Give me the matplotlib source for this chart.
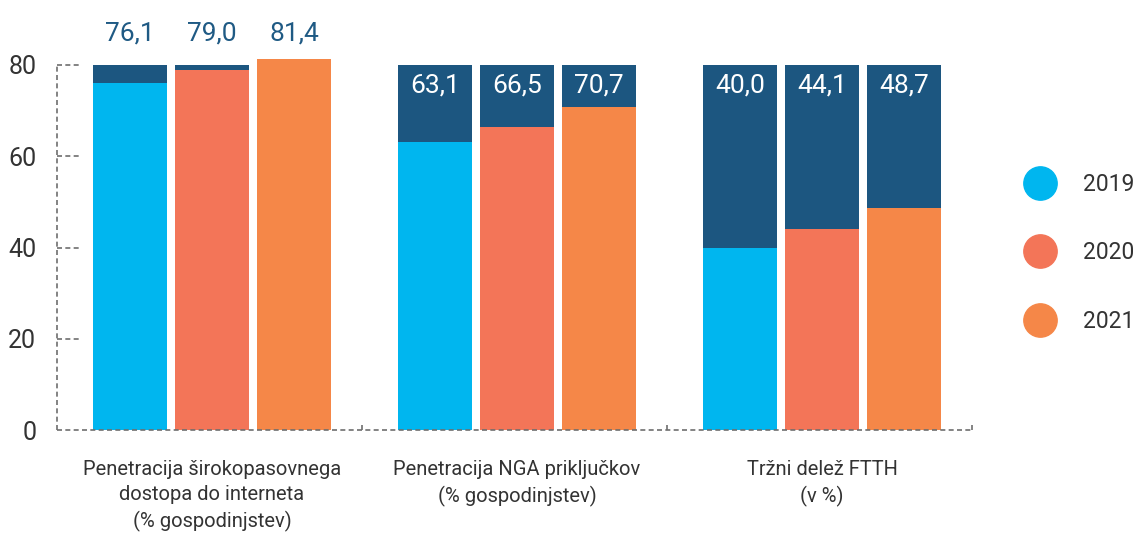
import matplotlib
matplotlib.use("Agg")
import matplotlib.pyplot as plt
from matplotlib.lines import Line2D
import numpy as np

categories = ["Penetracija širokopasovnega\ndostopa do interneta\n(% gospodinjstev)",
              "Penetracija NGA priključkov\n(% gospodinjstev)",
              "Tržni delež FTTH\n(v %)"]
years = ["2019", "2020", "2021"]
values_2019 = [76.1, 63.1, 40.0]
values_2020 = [79.0, 66.5, 44.1]
values_2021 = [81.4, 70.7, 48.7]
background_level = 80
yticks = [0, 20, 40, 60, 80]

series = [values_2019, values_2020, values_2021]
colors = ["#00B6EF", "#F37558", "#F58748"]
navy = "#1C5680"
label_color = "#1F5A84"
text_color = "#333333"
axis_color = "#6E6E6E"

plt.rcParams['font.family'] = ['Roboto', 'DejaVu Sans']

fig = plt.figure(figsize=(11.44, 5.36), dpi=100)
ax = fig.add_axes([57/1144, 106/536, (972-57)/1144, (430-65)/536])

ngroups = len(categories)
centers = np.arange(ngroups) + 0.5 + 2.5/305
bw = 74/305
step = 82/305
offsets = [-step, 0, step]

for s_idx, (vals, col, off) in enumerate(zip(series, colors, offsets)):
    x = centers + off
    ax.bar(x, [background_level]*ngroups, width=bw, color=navy, zorder=2, clip_on=False, linewidth=0)
    ax.bar(x, vals, width=bw, color=col, zorder=3, clip_on=False, linewidth=0)
    for gi, v in enumerate(vals):
        txt = f"{v:.1f}".replace(".", ",")
        if gi == 0:
            ax.text(x[gi], 80 + 32/4.5625, txt, ha="center", va="center",
                    fontsize=19, color=label_color, clip_on=False)
        else:
            ax.text(x[gi], 80 - 20/4.5625, txt, ha="center", va="center",
                    fontsize=19, color="white", zorder=5)

ax.set_xlim(0, ngroups)
ax.set_ylim(0, 80)

for sp in ax.spines.values():
    sp.set_visible(False)

dash = dict(color=axis_color, linewidth=1.2, linestyle=(0, (3, 2)), zorder=1, clip_on=False)
ax.plot([0, 0], [0, 80], **dash)
ax.plot([0, ngroups], [0, 0], **{**dash, 'zorder': 4})
for t in yticks[1:]:
    ax.plot([0, 23/305], [t, t], **dash)
for g in range(1, ngroups+1):
    ax.plot([g, g], [0, 8/4.5625], **dash)

ax.set_xticks([])
ax.set_yticks(yticks)
ax.set_yticklabels([str(t) for t in yticks], fontsize=18, color=text_color)
ax.tick_params(axis='y', length=0, pad=15)

for c, lab in zip(centers, categories):
    ax.text(c, -6.6, lab, ha="center", va="top", fontsize=14.5, color=text_color,
            linespacing=1.4, clip_on=False)

handles = [Line2D([0], [0], marker='o', linestyle='', markersize=24,
                  markerfacecolor=c, markeredgecolor=c) for c in colors]
leg = fig.legend(handles, years, loc="center left", bbox_to_anchor=(1012/1144, (536-253)/536),
                 frameon=False, fontsize=16.5, labelspacing=2.0, handletextpad=1.2,
                 borderpad=0, handlelength=1.4)
for t in leg.get_texts():
    t.set_color(text_color)

fig.savefig("out.png", dpi=100)
